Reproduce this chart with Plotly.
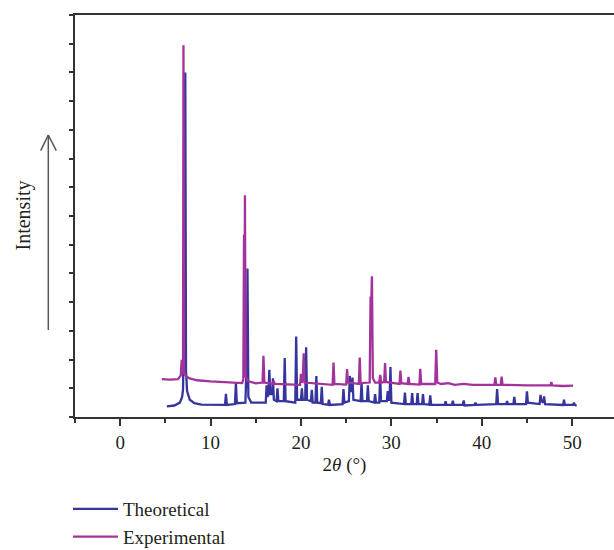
import plotly.graph_objects as go

# Powder XRD patterns: 2-theta (degrees) vs intensity (arbitrary units, offset)
theo_2theta = [5.16, 6.0, 6.6, 6.85, 6.95, 7.05, 7.1, 7.2, 7.28, 7.4, 7.7, 8.2, 9.0,
               11.6, 11.7, 11.8, 12.7, 12.8, 12.9, 13.85, 13.95, 14.0, 14.08, 14.18, 14.5,
               16.1, 16.2, 16.3, 16.4, 16.5, 16.6, 16.8, 16.9, 17.0, 17.3, 17.4, 17.5,
               18.1, 18.2, 18.3, 19.37, 19.47, 19.57, 20.0, 20.1, 20.2, 20.47, 20.57, 20.67,
               21.1, 21.2, 21.3, 21.6, 21.7, 21.8, 22.2, 22.3, 22.4, 23.0, 23.1, 23.2,
               24.6, 24.7, 24.8, 25.3, 25.4, 25.5, 25.6, 25.7, 25.8, 26.6, 26.7, 26.8,
               27.3, 27.4, 27.5, 28.1, 28.2, 28.3, 28.66, 28.76, 28.86, 29.5, 29.6, 29.7,
               29.8, 29.9, 30.0, 31.4, 31.5, 31.6, 32.2, 32.3, 32.4, 32.8, 32.9, 33.0,
               33.4, 33.5, 33.6, 34.2, 34.3, 34.4, 35.9, 36.0, 36.1, 36.7, 36.8, 36.9,
               37.9, 38.0, 38.1, 39.2, 39.3, 39.4, 41.6, 41.7, 41.8, 42.7, 42.8, 42.9,
               43.5, 43.6, 43.7, 44.9, 45.0, 45.1, 46.4, 46.5, 46.6, 46.8, 46.9, 47.0,
               49.0, 49.1, 49.2, 50.1, 50.2, 50.3, 50.5]
theo_intensity = [0.37, 0.40, 0.50, 0.70, 0.95, 3.00, 8.80, 12.00, 1.60, 0.90, 0.60, 0.48, 0.43,
                  0.42, 0.81, 0.42, 0.45, 1.20, 0.48, 0.50, 1.50, 1.00, 5.17, 0.70, 0.50,
                  0.50, 1.10, 0.70, 0.80, 1.64, 0.80, 0.80, 1.35, 0.60, 0.55, 1.00, 0.55,
                  0.55, 2.05, 0.55, 0.50, 2.80, 0.60, 0.60, 1.00, 0.60, 0.60, 2.43, 0.60,
                  0.55, 0.95, 0.50, 0.50, 1.43, 0.50, 0.48, 1.05, 0.45, 0.43, 0.60, 0.42,
                  0.45, 0.97, 0.50, 0.55, 1.43, 0.90, 0.90, 1.37, 0.60, 0.55, 1.22, 0.55,
                  0.55, 1.10, 0.55, 0.50, 0.80, 0.50, 0.50, 1.43, 0.55, 0.55, 0.90, 0.60,
                  0.60, 1.74, 0.50, 0.45, 0.85, 0.45, 0.45, 0.83, 0.45, 0.45, 0.83, 0.45,
                  0.45, 0.80, 0.45, 0.43, 0.75, 0.43, 0.42, 0.55, 0.42, 0.42, 0.57, 0.42,
                  0.42, 0.58, 0.40, 0.42, 0.50, 0.42, 0.45, 0.97, 0.45, 0.45, 0.55, 0.45,
                  0.45, 0.70, 0.45, 0.45, 0.89, 0.50, 0.45, 0.77, 0.55, 0.50, 0.72, 0.45,
                  0.42, 0.60, 0.42, 0.42, 0.50, 0.42, 0.39]

exp_2theta = [4.6, 5.5, 6.4, 6.7, 6.8, 6.88, 6.95, 7.0, 7.07, 7.2, 7.6, 8.5, 10.0, 12.0,
              13.5, 13.62, 13.7, 13.74, 13.8, 13.88, 14.1, 15.0, 15.75, 15.85, 15.95,
              16.9, 17.0, 17.1, 19.9, 20.0, 20.1, 20.2, 20.3, 20.4, 23.5, 23.6, 23.7,
              25.0, 25.1, 25.2, 26.4, 26.5, 26.6, 27.6, 27.7, 27.75, 27.85, 27.95, 28.2,
              28.66, 28.76, 28.86, 29.2, 29.3, 29.4, 30.9, 31.0, 31.1, 31.8, 31.9, 32.0,
              33.1, 33.2, 33.3, 34.85, 34.96, 35.08, 35.5, 36.3, 37.0, 38.0, 39.0, 40.0,
              41.4, 41.5, 41.6, 42.1, 42.2, 42.3, 43.5, 45.0, 46.0, 47.6, 47.7, 47.8,
              49.0, 50.1]
exp_intensity = [1.32, 1.30, 1.32, 1.45, 1.99, 1.50, 1.60, 12.95, 1.60, 1.45, 1.35, 1.28, 1.24, 1.20,
                 1.18, 1.30, 6.35, 2.50, 7.72, 1.40, 1.25, 1.17, 1.20, 2.13, 1.20,
                 1.15, 1.25, 1.15, 1.12, 1.50, 1.20, 1.30, 2.22, 1.20, 1.12, 1.90, 1.15,
                 1.13, 1.67, 1.20, 1.15, 2.07, 1.18, 1.20, 4.20, 3.50, 4.90, 1.35, 1.20,
                 1.20, 1.47, 1.20, 1.22, 1.88, 1.22, 1.15, 1.62, 1.18, 1.15, 1.40, 1.15,
                 1.13, 1.68, 1.15, 1.15, 2.34, 1.20, 1.15, 1.18, 1.12, 1.15, 1.12, 1.12,
                 1.12, 1.38, 1.12, 1.12, 1.41, 1.12, 1.10, 1.10, 1.10, 1.10, 1.22, 1.10,
                 1.08, 1.09]

x_range = [-5, 54.63]
y_range = [0, 14]
x_tick_step = 10
x_minor_step = 5

# Figure geometry (pixels)
W, H = 614, 550
ML, MR, MT, MB = 75, 0, 15, 133
PW, PH = W - ML - MR, H - MT - MB


def px(xp):
    return (xp - ML) / PW


def py(yp):
    return (H - MB - yp) / PH


BLUE = "#35359d"
MAGENTA = "#a2339a"
TEXT = "#231f20"
AXIS = "#333333"
FONT = "Liberation Serif"

fig = go.Figure()
fig.add_trace(go.Scatter(x=theo_2theta, y=theo_intensity, mode="lines", name="Theoretical",
                         line=dict(color=BLUE, width=2.3)))
fig.add_trace(go.Scatter(x=exp_2theta, y=exp_intensity, mode="lines", name="Experimental",
                         line=dict(color=MAGENTA, width=2.3)))

fig.update_layout(
    width=W, height=H,
    margin=dict(l=ML, r=MR, t=MT, b=MB, autoexpand=False),
    paper_bgcolor="white", plot_bgcolor="white",
    font=dict(family=FONT, size=19, color=TEXT),
    showlegend=True,
    legend=dict(x=px(68), y=py(490), xanchor="left", yanchor="top",
                font=dict(family=FONT, size=19, color=TEXT),
                bgcolor="rgba(0,0,0,0)", itemwidth=45, tracegroupgap=0),
    xaxis=dict(range=x_range, dtick=x_tick_step, tick0=0, showgrid=False, zeroline=False,
               showline=True, linecolor=AXIS, linewidth=1.5, mirror=True,
               ticks="outside", ticklen=7, tickwidth=1.5, tickcolor=AXIS,
               tickfont=dict(family=FONT, size=19, color=TEXT),
               minor=dict(dtick=x_minor_step, tick0=0, ticks="outside", ticklen=4,
                          tickwidth=1.5, tickcolor=AXIS, showgrid=False),
               title=dict(text="2<i>θ</i> (°)", font=dict(family=FONT, size=19, color=TEXT),
                          standoff=6)),
    yaxis=dict(range=y_range, dtick=1, tick0=0, showgrid=False, zeroline=False,
               showline=True, linecolor=AXIS, linewidth=1.5, mirror=False,
               ticks="outside", ticklen=4, tickwidth=1.5, tickcolor=AXIS,
               showticklabels=False),
)

# Rotated axis caption and the upward arrow beside it
fig.add_annotation(text="Intensity", xref="paper", yref="paper", x=px(23), y=py(215.5),
                   textangle=-90, showarrow=False, xanchor="center", yanchor="middle",
                   font=dict(family=FONT, size=20, color=TEXT))
arrow_style = dict(color="#555555", width=1.5)
fig.add_shape(type="line", xref="paper", yref="paper", x0=px(48.3), x1=px(48.3),
              y0=py(330), y1=py(135), line=arrow_style)
fig.add_shape(type="line", xref="paper", yref="paper", x0=px(40.7), x1=px(48.3),
              y0=py(150.7), y1=py(135), line=arrow_style)
fig.add_shape(type="line", xref="paper", yref="paper", x0=px(56.3), x1=px(48.3),
              y0=py(150.7), y1=py(135), line=arrow_style)

fig.write_html("out.html")
